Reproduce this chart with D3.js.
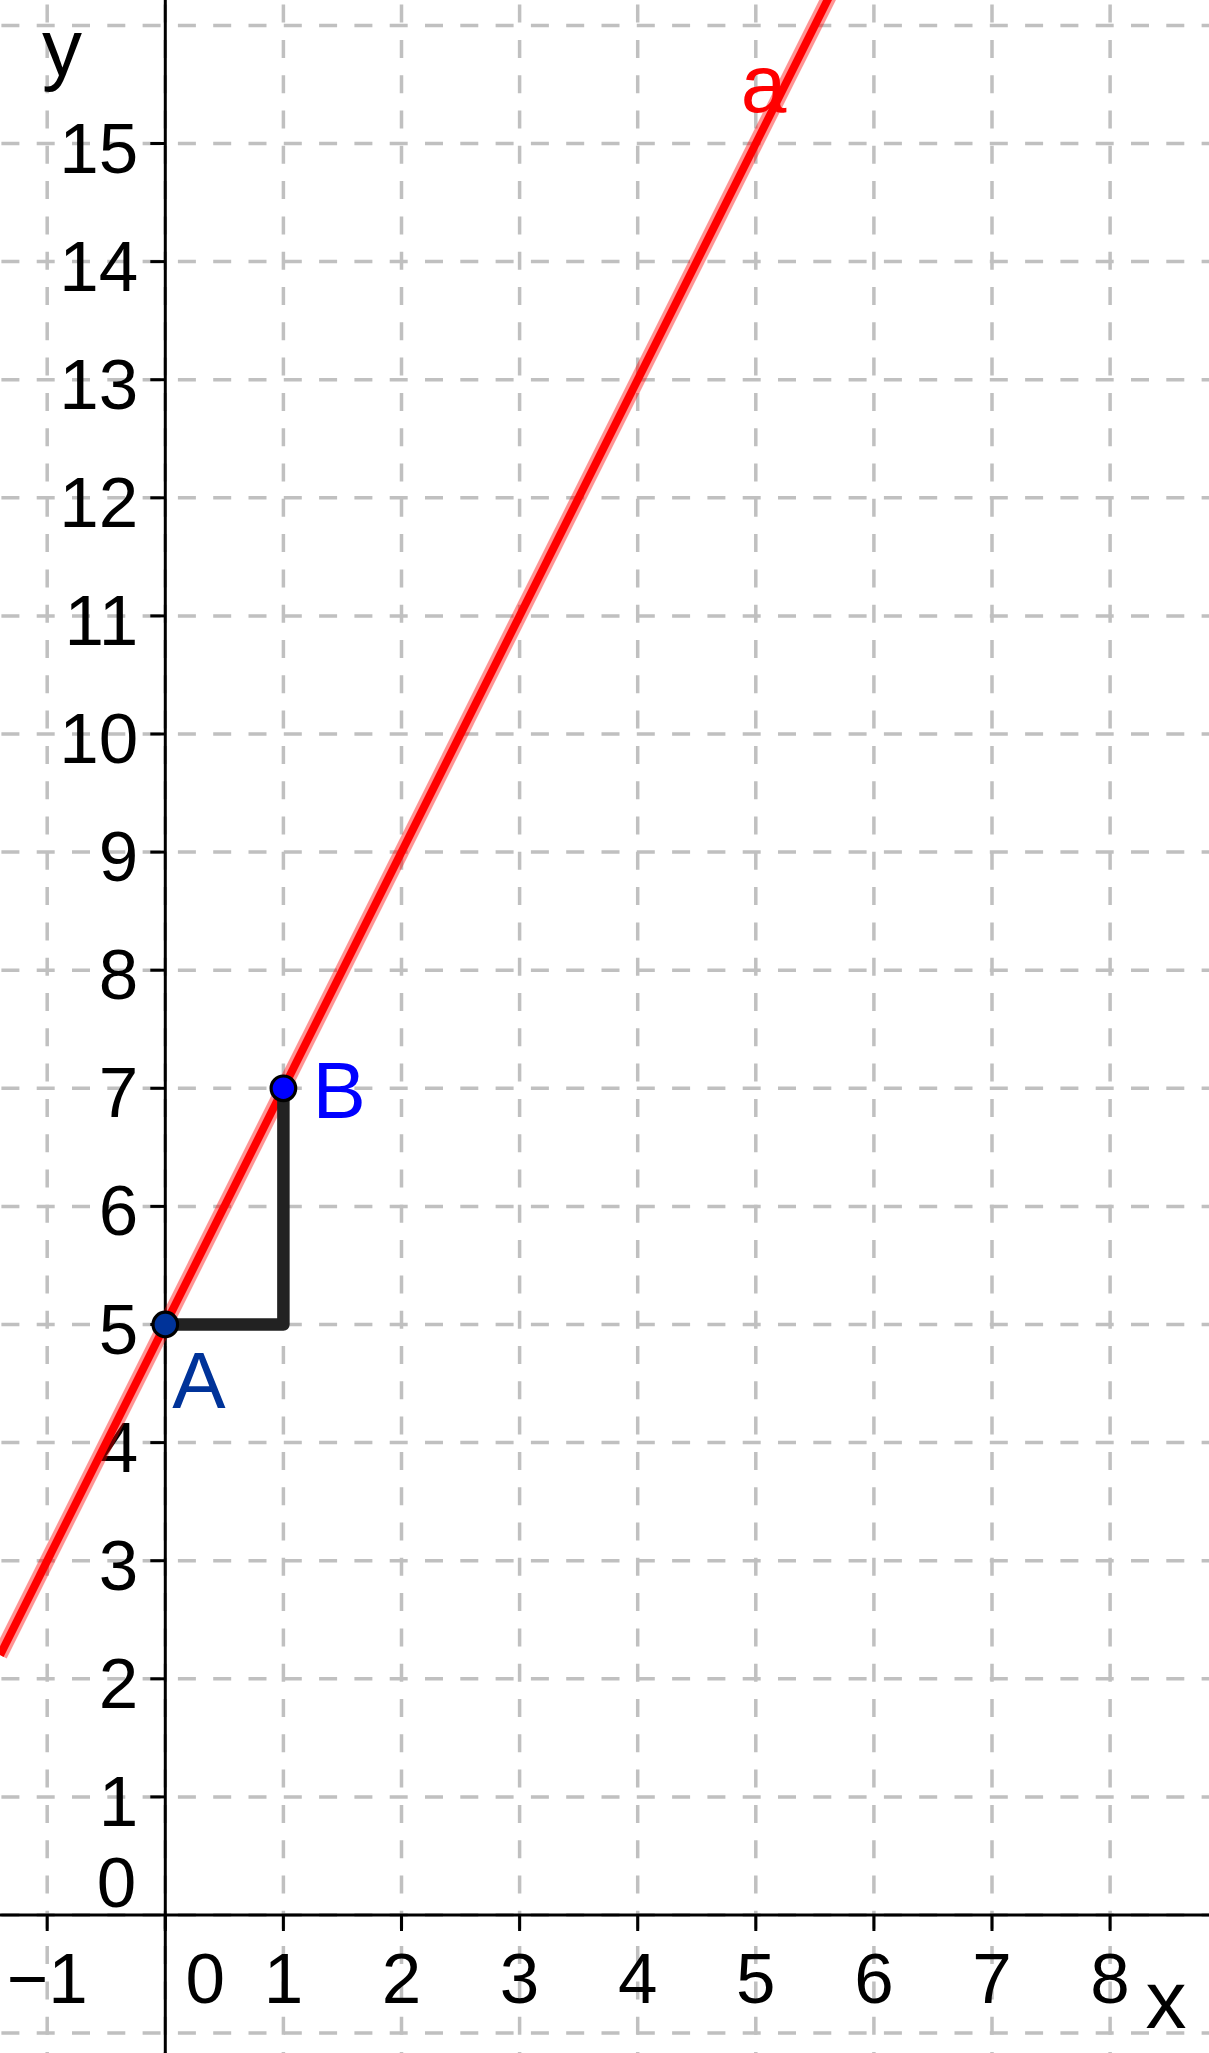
<!DOCTYPE html>
<html>
<head>
<meta charset="utf-8">
<script src="https://cdn.jsdelivr.net/npm/d3@7"></script>
<style>
html,body{margin:0;padding:0;background:#fff;}
svg{display:block;}
text{font-family:"Liberation Sans",Arial,sans-serif;}
</style>
</head>
<body>
<script>
// ---- data ----
const xTickValues = [-1, 0, 1, 2, 3, 4, 5, 6, 7, 8];
const xTickLabels = ["\u22121", "0", "1", "2", "3", "4", "5", "6", "7", "8"];
const yTickValues = [1, 2, 3, 4, 5, 6, 7, 8, 9, 10, 11, 12, 13, 14, 15];
const yTickLabels = ["1","2","3","4","5","6","7","8","9","10","11","12","13","14","15"];
const xGridValues = [-1, 0, 1, 2, 3, 4, 5, 6, 7, 8];
const yGridValues = [-1, 0, 1, 2, 3, 4, 5, 6, 7, 8, 9, 10, 11, 12, 13, 14, 15, 16];
const lineSlope = 2;
const lineIntercept = 5;
const lineName = ["a"];
const pointNames = ["A", "B"];
const pointX = [0, 1];
const pointY = [5, 7];
const triangleX = [0, 1, 1];
const triangleY = [5, 5, 7];

// ---- layout ----
const W = 1209, H = 2053;
const unit = 118.1;
const ox = 165.3, oy = 1915;
const x = d3.scaleLinear().domain([-ox / unit, (W - ox) / unit]).range([0, W]);
const y = d3.scaleLinear().domain([-(H - oy) / unit, oy / unit]).range([H, 0]);

const svg = d3.select("body").append("svg").attr("width", W).attr("height", H);

// grid
const grid = svg.append("g").attr("stroke", "#c0c0c0").attr("stroke-width", 3.5)
  .attr("stroke-dasharray", "18,17.3");
grid.selectAll("line.h").data(yGridValues).join("line").attr("class", "h")
  .attr("x1", 0).attr("x2", W).attr("y1", d => y(d)).attr("y2", d => y(d))
  .attr("stroke-dashoffset", 33.9);
grid.selectAll("line.v").data(xGridValues).join("line").attr("class", "v")
  .attr("y1", 0).attr("y2", H).attr("x1", d => x(d)).attr("x2", d => x(d))
  .attr("stroke-dashoffset", 30.7);

// axes
const axes = svg.append("g").attr("stroke", "#000").attr("stroke-width", 3);
axes.append("line").attr("x1", 0).attr("x2", W).attr("y1", y(0)).attr("y2", y(0));
axes.append("line").attr("x1", x(0)).attr("x2", x(0)).attr("y1", 0).attr("y2", H);
axes.selectAll("line.xt").data(xTickValues).join("line").attr("class", "xt")
  .attr("x1", d => x(d)).attr("x2", d => x(d)).attr("y1", y(0)).attr("y2", y(0) + 16);
axes.selectAll("line.yt").data(yTickValues).join("line").attr("class", "yt")
  .attr("y1", d => y(d)).attr("y2", d => y(d)).attr("x1", x(0)).attr("x2", x(0) - 15);

// tick labels
const fs = 71;
svg.append("g").selectAll("text").data(xTickValues).join("text")
  .attr("x", (d, i) => d === 0 ? x(d) + 40 : x(d))
  .attr("y", y(0) + 88)
  .attr("text-anchor", "middle").attr("font-size", fs).attr("fill", "#000")
  .text((d, i) => xTickLabels[i]);
svg.append("g").selectAll("text").data(yTickValues).join("text")
  .attr("x", x(0) - 27)
  .attr("y", d => y(d) + 29)
  .attr("text-anchor", "end").attr("font-size", fs).attr("fill", "#000")
  .text((d, i) => yTickLabels[i]);
// origin label above x-axis
svg.append("text").attr("x", x(0) - 29).attr("y", y(0) - 8)
  .attr("text-anchor", "end").attr("font-size", fs).attr("fill", "#000").text("0");

// axis names
svg.append("text").attr("x", x(8.3)).attr("y", y(0) + 113)
  .attr("font-size", 82).attr("fill", "#000").text("x");
svg.append("text").attr("x", 42).attr("y", 75)
  .attr("font-size", 80).attr("fill", "#000").text("y");

// line a
const xd = x.domain();
const linePts = xd.map(v => [v, lineSlope * v + lineIntercept]);
const lg = d3.line().x(d => x(d[0])).y(d => y(d[1]));
svg.append("path").attr("d", lg(linePts)).attr("fill", "none")
  .attr("stroke", "rgba(255,0,0,0.42)").attr("stroke-width", 15);
svg.append("path").attr("d", lg(linePts)).attr("fill", "none")
  .attr("stroke", "#ff0000").attr("stroke-width", 8);
// label a
const aY = 15.27;
svg.append("text").attr("x", x((aY - lineIntercept) / lineSlope) - 31).attr("y", y(aY))
  .attr("font-size", 82).attr("fill", "#ff0000").text(lineName[0]);

// slope triangle
const tri = triangleX.map((v, i) => [v, triangleY[i]]);
svg.append("path").attr("d", lg(tri)).attr("fill", "none")
  .attr("stroke", "#222222").attr("stroke-width", 12.5)
  .attr("stroke-linejoin", "round").attr("stroke-linecap", "round");

// points
const pointFill = ["#003399", "#0000ff"];
const labelFill = ["#003399", "#0000ff"];
const pts = pointNames.map((n, i) => ({n, x: pointX[i], y: pointY[i], i}));
svg.append("g").selectAll("circle").data(pts).join("circle")
  .attr("cx", d => x(d.x)).attr("cy", d => y(d.y)).attr("r", 12.3)
  .attr("fill", d => pointFill[d.i]).attr("stroke", "#000").attr("stroke-width", 3.2);
svg.append("text").attr("x", x(pointX[0]) + 7).attr("y", y(pointY[0]) + 83)
  .attr("font-size", 80).attr("fill", labelFill[0]).text(pointNames[0]);
svg.append("text").attr("x", x(pointX[1]) + 29).attr("y", y(pointY[1]) + 30)
  .attr("font-size", 80).attr("fill", labelFill[1]).text(pointNames[1]);
</script>
</body>
</html>
